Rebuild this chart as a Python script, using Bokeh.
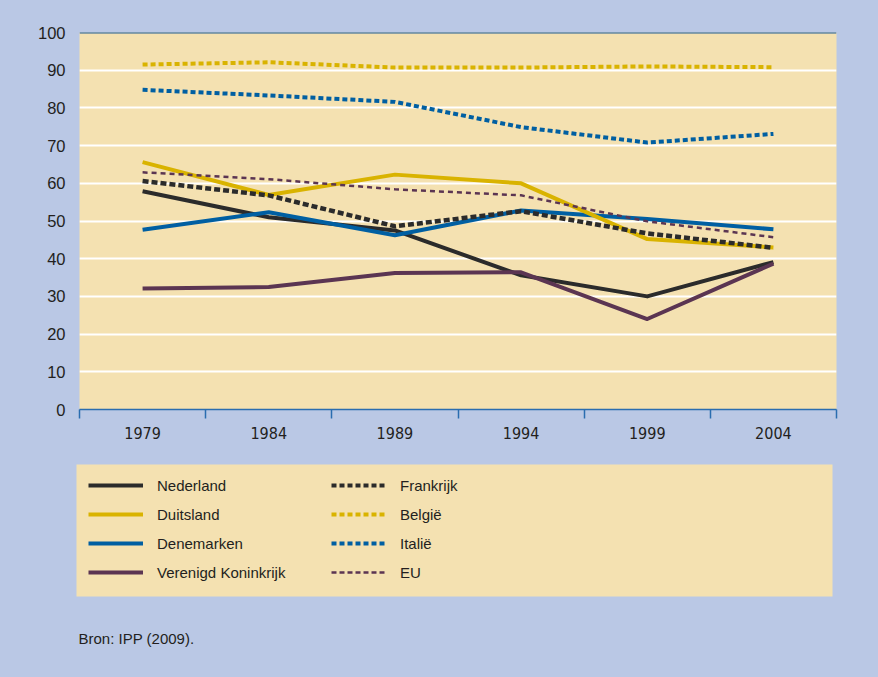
from bokeh.plotting import figure
from bokeh.models import Range1d, FixedTicker, Span, Legend, LegendItem, Title
from bokeh.layouts import column, row
from bokeh.embed import file_html
from bokeh.resources import INLINE

years = [1979, 1984, 1989, 1994, 1999, 2004]
nederland = [57.9, 51.0, 47.5, 35.6, 30.0, 39.1]
duitsland = [65.6, 56.9, 62.3, 60.0, 45.2, 43.0]
denemarken = [47.7, 52.3, 46.2, 52.8, 50.5, 47.8]
vk = [32.1, 32.5, 36.2, 36.4, 24.0, 38.7]
frankrijk = [60.6, 56.8, 48.6, 52.6, 46.7, 42.9]
belgie = [91.5, 92.1, 90.7, 90.7, 91.0, 90.8]
italie = [84.8, 83.3, 81.6, 74.9, 70.8, 73.1]
eu = [62.9, 61.1, 58.4, 56.8, 49.9, 45.7]
y_ticks = [0, 10, 20, 30, 40, 50, 60, 70, 80, 90, 100]
source_text = "Bron: IPP (2009)."

BLUE_BG = "#BAC8E5"
BEIGE = "#F4E1B1"
BLACK = "#2B2B2B"
YELLOW = "#D9B300"
BLUE = "#005FA2"
PURPLE = "#5B3552"
TEXT = "#231F20"
FONT = "'Liberation Sans', Arial, sans-serif"
NARROW = "'Liberation Sans Narrow', 'DejaVu Sans Condensed', 'Liberation Sans', sans-serif"

series = [
    ("Nederland", nederland, BLACK, 4, None),
    ("Duitsland", duitsland, YELLOW, 4, None),
    ("Denemarken", denemarken, BLUE, 4, None),
    ("Verenigd Koninkrijk", vk, PURPLE, 4, None),
    ("Frankrijk", frankrijk, BLACK, 4.5, "6 3"),
    ("België", belgie, YELLOW, 4, "5 3"),
    ("Italië", italie, BLUE, 4, "5 3"),
    ("EU", eu, PURPLE, 2.5, "5 4"),
]
draw_order = [0, 3, 2, 1, 7, 6, 5, 4]

half = (years[1] - years[0]) / 2
bounds = [y - half for y in years] + [years[-1] + half]

p = figure(width=878, height=445, output_backend="svg", toolbar_location=None,
           x_range=Range1d(bounds[0], bounds[-1]), y_range=Range1d(0, 100),
           min_border_left=79, min_border_right=42, min_border_top=32, min_border_bottom=36)
p.border_fill_color = BLUE_BG
p.background_fill_color = BEIGE
p.outline_line_color = None

p.yaxis.ticker = FixedTicker(ticks=y_ticks)
p.yaxis.axis_line_color = None
p.yaxis.major_tick_line_color = None
p.yaxis.minor_tick_line_color = None
p.yaxis.major_label_standoff = 8
p.yaxis.major_label_text_font = FONT
p.yaxis.major_label_text_font_size = "16.5px"
p.yaxis.major_label_text_color = TEXT

p.xaxis.ticker = FixedTicker(ticks=years, minor_ticks=bounds)
p.xaxis.axis_line_color = "#2A6DB0"
p.xaxis.axis_line_width = 1.5
p.xaxis.major_tick_line_color = None
p.xaxis.minor_tick_line_color = "#2A6DB0"
p.xaxis.minor_tick_line_width = 1.5
p.xaxis.minor_tick_in = 0
p.xaxis.minor_tick_out = 9
p.xaxis.major_label_standoff = 8
p.xaxis.major_label_text_font = NARROW
p.xaxis.major_label_text_font_size = "16px"
p.xaxis.major_label_text_color = TEXT

p.xgrid.grid_line_color = None
p.ygrid.grid_line_color = "white"
p.ygrid.grid_line_width = 2

for i in draw_order:
    name, vals, color, width, dash = series[i]
    kw = dict(line_color=color, line_width=width, line_join="round")
    if dash:
        kw["line_dash"] = dash
        kw["line_join"] = "miter"
    p.line(years, vals, **kw)

p.add_layout(Span(location=100, dimension="width", line_color="#1D5C97", line_width=2))

# Legend panel (series are drawn here too, but fall outside its visible range)
q = figure(width=878, height=232, output_backend="svg", toolbar_location=None,
           x_range=Range1d(0, 1), y_range=Range1d(0, 1),
           x_axis_location=None, y_axis_location=None,
           min_border_left=76, min_border_right=46, min_border_top=19, min_border_bottom=80)
q.border_fill_color = BLUE_BG
q.background_fill_color = BEIGE
q.outline_line_color = None
q.grid.grid_line_color = None

items = []
for name, vals, color, width, dash in series:
    kw = dict(line_color=color, line_width=width if width < 4 else 4)
    if dash:
        kw["line_dash"] = "5 3"
    r = q.line(years, vals, **kw)
    items.append(LegendItem(label=name, renderers=[r]))

legend = Legend(items=items, location="top_left", nrows=4,
                background_fill_alpha=0, border_line_color=None,
                margin=12, padding=10, spacing=11,
                glyph_width=55, glyph_height=18, label_height=18,
                label_standoff=14, label_width=163,
                label_text_font=FONT, label_text_font_size="15px",
                label_text_color=TEXT)
q.add_layout(legend)

q.add_layout(Title(text=source_text, align="left", offset=2, standoff=62,
                   text_font=FONT, text_font_size="15px", text_font_style="normal",
                   text_color=TEXT), "below")

layout = column(row(p, spacing=0), row(q, spacing=0), spacing=0)

html = file_html(layout, INLINE)
html = html.replace("</head>", "<style>body{background-color:%s;}</style></head>" % BLUE_BG, 1)
open("out.html", "w").write(html)
